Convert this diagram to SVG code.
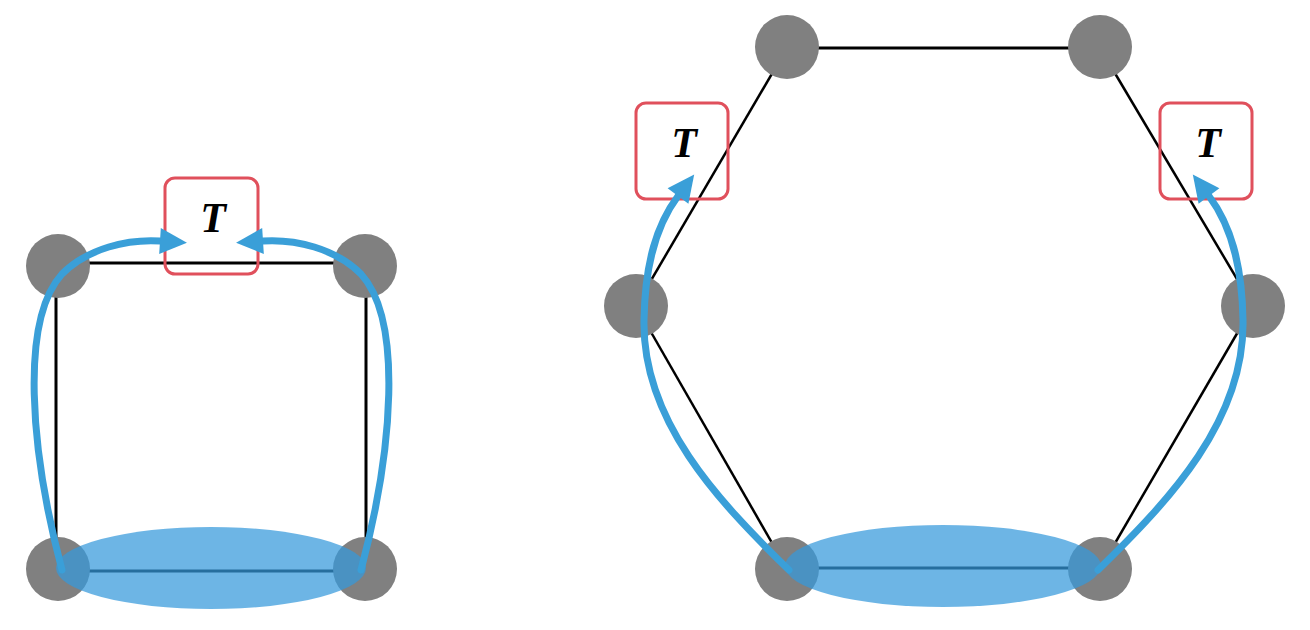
<svg xmlns="http://www.w3.org/2000/svg" width="1310" height="630" viewBox="0 0 1310 630">
<style>
.edge{stroke:#000;stroke-width:3;fill:none}
.edge2{stroke:#000;stroke-width:2.5;fill:none}
.node{fill:#808080}
.set{fill:#3498db;fill-opacity:0.72}
.tbox{fill:none;stroke:#e0505c;stroke-width:3}
.tlabel{font-family:"Liberation Serif",serif;font-style:italic;font-weight:bold;font-size:42px;fill:#000;text-anchor:middle}
.arrow{fill:none;stroke:#3a9fd8;stroke-width:7;stroke-linecap:round}
</style>
<defs>
<marker id="head" markerUnits="userSpaceOnUse" markerWidth="30" markerHeight="28" refX="0" refY="13" orient="auto" overflow="visible">
<path d="M0,0 L27,13 L0,26 z" fill="#3a9fd8"/>
</marker>
</defs>
<rect width="1310" height="630" fill="#fff"/>
<g id="edges">
<line class="edge" x1="58" y1="263" x2="365" y2="263"/>
<line class="edge" x1="56" y1="266" x2="56" y2="569"/>
<line class="edge" x1="366" y1="266" x2="366" y2="569"/>
<line class="edge" x1="58" y1="571" x2="365" y2="571"/>
<line class="edge" x1="787" y1="48" x2="1100" y2="48"/>
<line class="edge2" x1="787" y1="48" x2="636" y2="306"/>
<line class="edge2" x1="636" y1="306" x2="787" y2="569"/>
<line class="edge2" x1="1100" y1="48" x2="1253" y2="306"/>
<line class="edge2" x1="1253" y1="306" x2="1100" y2="569"/>
<line class="edge" x1="787" y1="568" x2="1100" y2="568"/>
</g>
<g id="node-sq-tl"><circle class="node" cx="58" cy="266" r="32"/></g>
<g id="node-sq-tr"><circle class="node" cx="365" cy="266" r="32"/></g>
<g id="node-sq-bl"><circle class="node" cx="58" cy="569" r="32"/></g>
<g id="node-sq-br"><circle class="node" cx="365" cy="569" r="32"/></g>
<g id="node-hx-t1"><circle class="node" cx="787" cy="47" r="32"/></g>
<g id="node-hx-t2"><circle class="node" cx="1100" cy="47" r="32"/></g>
<g id="node-hx-ml"><circle class="node" cx="636" cy="306" r="32"/></g>
<g id="node-hx-mr"><circle class="node" cx="1253" cy="306" r="32"/></g>
<g id="node-hx-bl"><circle class="node" cx="787" cy="569" r="32"/></g>
<g id="node-hx-br"><circle class="node" cx="1100" cy="569" r="32"/></g>
<g id="set-sq"><ellipse class="set" cx="211" cy="568" rx="155" ry="41"/></g>
<g id="set-hx"><ellipse class="set" cx="943" cy="566" rx="158" ry="41"/></g>
<g id="t-sq"><rect class="tbox" x="165" y="178" width="93" height="96" rx="10"/><text class="tlabel" x="213" y="232">T</text></g>
<g id="t-hx-l"><rect class="tbox" x="636" y="103" width="92" height="96" rx="10"/><text class="tlabel" x="684" y="157">T</text></g>
<g id="t-hx-r"><rect class="tbox" x="1160" y="103" width="92" height="96" rx="10"/><text class="tlabel" x="1208" y="157">T</text></g>
<g id="arrows">
<path class="arrow" marker-end="url(#head)" d="M62 570 C30 450 20 320 62 274 C88 248 128 239 160 241"/>
<path class="arrow" marker-end="url(#head)" d="M361 570 C393 450 403 320 361 274 C335 248 295 239 263 241"/>
<path class="arrow" marker-end="url(#head)" d="M789 570 C717 500 642 420 644 320 C645 262 657 224 678 196"/>
<path class="arrow" marker-end="url(#head)" d="M1098 570 C1170 500 1245 420 1243 320 C1242 262 1230 224 1209 196"/>
</g>
</svg>
